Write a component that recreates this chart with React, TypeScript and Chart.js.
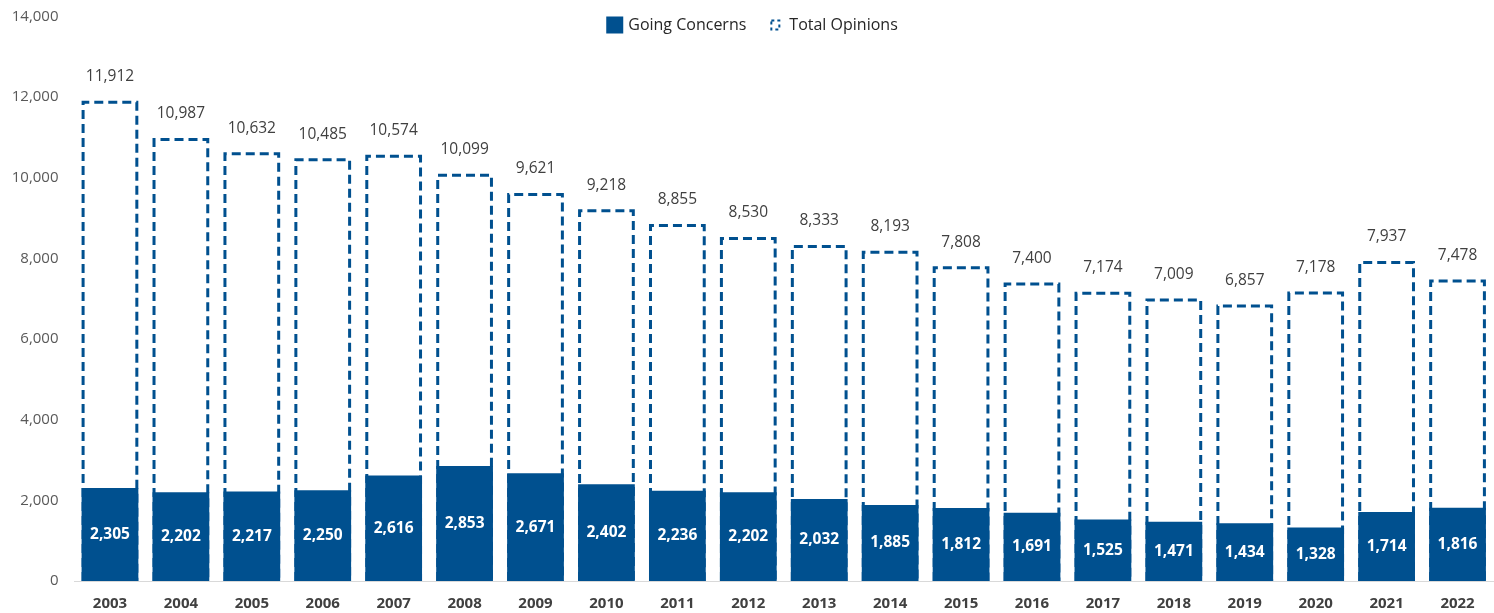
import React, { useEffect, useRef } from "react";
import { Chart, registerables } from "chart.js";

Chart.register(...registerables);

const years = ["2003","2004","2005","2006","2007","2008","2009","2010","2011","2012","2013","2014","2015","2016","2017","2018","2019","2020","2021","2022"];
const goingConcerns = [2305,2202,2217,2250,2616,2853,2671,2402,2236,2202,2032,1885,1812,1691,1525,1471,1434,1328,1714,1816];
const totalOpinions = [11912,10987,10632,10485,10574,10099,9621,9218,8855,8530,8333,8193,7808,7400,7174,7009,6857,7178,7937,7478];
const yTicks = [0,2000,4000,6000,8000,10000,12000,14000];
const legendLabels = ["Going Concerns", "Total Opinions"];

const BLUE = "#00508f";
const FONT = "'Open Sans', 'Noto Sans', sans-serif";
const fmt = (v: number) => v.toLocaleString("en-US");

const dashedBoxes = {
  id: "dashedBoxes",
  beforeDatasetsDraw(chart: any) {
    const meta = chart.getDatasetMeta(1);
    const ctx = chart.ctx;
    ctx.save();
    ctx.strokeStyle = BLUE;
    ctx.lineWidth = 3;
    ctx.setLineDash([9, 5]);
    meta.data.forEach((el: any) => {
      const { x, y, base, width } = el.getProps(["x", "y", "base", "width"], true);
      const l = x - width / 2 + 1.5;
      const r = x + width / 2 - 1.5;
      ctx.beginPath();
      ctx.moveTo(l, base);
      ctx.lineTo(l, y + 1.5);
      ctx.lineTo(r, y + 1.5);
      ctx.lineTo(r, base);
      ctx.stroke();
    });
    ctx.restore();
  },
};

const valueLabels = {
  id: "valueLabels",
  afterDatasetsDraw(chart: any) {
    const ctx = chart.ctx;
    ctx.save();
    ctx.textAlign = "center";
    ctx.textBaseline = "middle";
    const tMeta = chart.getDatasetMeta(1);
    ctx.fillStyle = "#404040";
    ctx.font = `15.5px ${FONT}`;
    tMeta.data.forEach((el: any, i: number) => {
      const { x, y } = el.getProps(["x", "y"], true);
      ctx.fillText(fmt(totalOpinions[i]), x, y - 24);
    });
    const gMeta = chart.getDatasetMeta(0);
    ctx.fillStyle = "#ffffff";
    ctx.font = `bold 15.5px ${FONT}`;
    gMeta.data.forEach((el: any, i: number) => {
      const { x, y, base } = el.getProps(["x", "y", "base"], true);
      ctx.fillText(fmt(goingConcerns[i]), x, (y + base) / 2);
    });
    ctx.restore();
  },
};

const customLegend = {
  id: "customLegend",
  afterDraw(chart: any) {
    const ctx = chart.ctx;
    ctx.save();
    ctx.font = `16px ${FONT}`;
    ctx.textBaseline = "middle";
    const w1 = ctx.measureText(legendLabels[0]).width;
    const w2 = ctx.measureText(legendLabels[1]).width;
    const total = 17 + 5 + w1 + 25 + 9 + 9 + w2;
    let x = chart.width / 2 + 5 - total / 2;
    const cy = 25;
    ctx.fillStyle = BLUE;
    ctx.fillRect(x, cy - 8.5, 17, 17);
    x += 22;
    ctx.fillStyle = "#262626";
    ctx.fillText(legendLabels[0], x, cy);
    x += w1 + 25;
    ctx.strokeStyle = BLUE;
    ctx.lineWidth = 2;
    ctx.setLineDash([3, 3]);
    ctx.strokeRect(x, cy - 4.5, 8, 9);
    ctx.setLineDash([]);
    x += 18;
    ctx.fillText(legendLabels[1], x, cy);
    ctx.restore();
  },
};

export default function App() {
  const ref = useRef<HTMLCanvasElement>(null);
  useEffect(() => {
    if (!ref.current) return;
    const chart = new Chart(ref.current, {
      type: "bar",
      data: {
        labels: years,
        datasets: [
          {
            label: legendLabels[0],
            data: goingConcerns,
            backgroundColor: BLUE,
            borderWidth: 0,
            grouped: false,
            barPercentage: 0.8,
            categoryPercentage: 1,
            order: 0,
          } as any,
          {
            label: legendLabels[1],
            data: totalOpinions,
            backgroundColor: "rgba(0,0,0,0)",
            borderWidth: 0,
            grouped: false,
            barPercentage: 0.8,
            categoryPercentage: 1,
            order: 1,
          } as any,
        ],
      },
      options: {
        animation: false,
        responsive: false,
        maintainAspectRatio: false,
        layout: { padding: { top: 16.5, left: 8, right: 1, bottom: 0 } },
        plugins: {
          legend: { display: false },
          tooltip: { enabled: false },
        },
        scales: {
          x: {
            grid: { display: false, drawTicks: false },
            border: { display: true, color: "#d9d9d9", width: 1 },
            ticks: {
              color: "#404040",
              font: { family: FONT, size: 15, weight: "bold" },
              padding: 14,
            },
            afterFit(scale: any) {
              scale.height = 32;
              scale.paddingLeft = 0;
              scale.paddingRight = 0;
            },
          },
          y: {
            min: 0,
            max: 14000,
            afterBuildTicks(scale: any) {
              scale.ticks = yTicks.map((v) => ({ value: v }));
            },
            grid: { display: false, drawTicks: false },
            border: { display: false },
            ticks: {
              color: "#595959",
              font: { family: FONT, size: 15 },
              padding: 16,
              callback: (v: any) => fmt(Number(v)),
            },
            afterFit(scale: any) {
              scale.width = 66.5;
              scale.paddingTop = 0;
              scale.paddingBottom = 0;
            },
          },
        },
      },
      plugins: [dashedBoxes, valueLabels, customLegend],
    });
    return () => chart.destroy();
  }, []);
  return (
    <div style={{ position: "fixed", left: 0, top: 0, width: 1494, height: 613, background: "#fff" }}>
      <canvas ref={ref} width={1494} height={613} style={{ width: 1494, height: 613 }} />
    </div>
  );
}
